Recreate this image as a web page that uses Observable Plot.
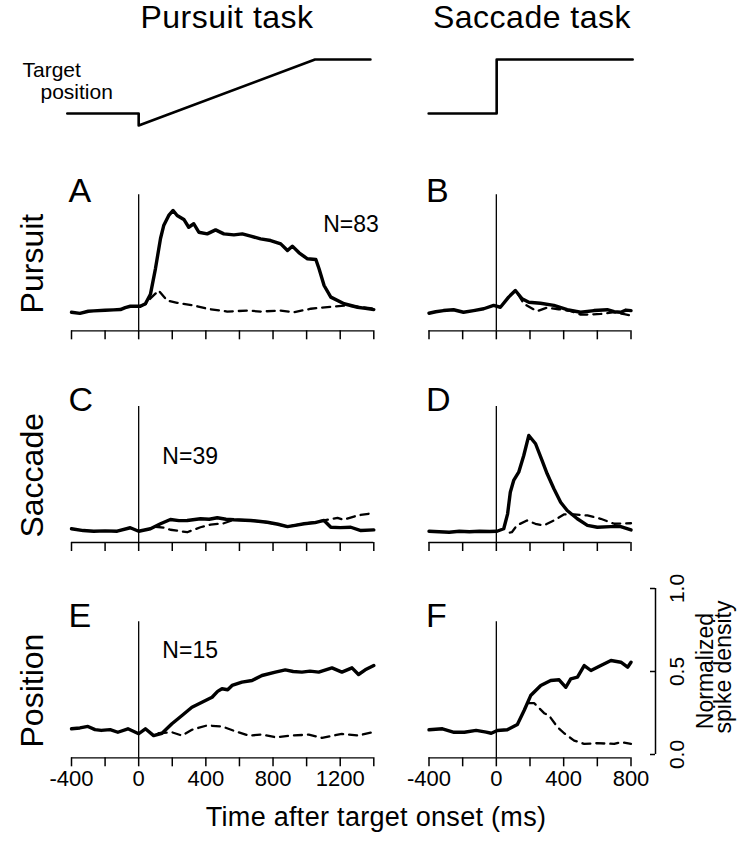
<!DOCTYPE html>
<html><head><meta charset="utf-8">
<script src="https://cdn.jsdelivr.net/npm/d3@7"></script>
<script src="https://cdn.jsdelivr.net/npm/@observablehq/plot@0.6"></script>
<style>
body{margin:0;background:#fff;}
#fig{position:relative;width:750px;height:843px;font-family:"Liberation Sans",Arial,sans-serif;color:#000;overflow:hidden;background:#fff}
#fig svg{position:absolute;overflow:visible;max-width:none;background:transparent}
.lbl{position:absolute;white-space:nowrap;transform:translateX(-50%);line-height:1}
</style></head><body><div id="fig"></div>
<script>
// ---- data (time in ms after target onset, normalized spike density) ----
const columnTitles = ["Pursuit task", "Saccade task"];
const rowTitles = ["Pursuit", "Saccade", "Position"];
const panelLetters = ["A", "B", "C", "D", "E", "F"];
const cellCounts = ["N=83", "N=39", "N=15"];
const timeTicks = [-400, -200, 0, 200, 400, 600, 800, 1000, 1200, 1400];
const densityTicks = [0, 0.5, 1];

// target position schematics (arbitrary units)
const pursuitTarget = [[-425, 0], [0, 0], [0, -1], [1050, 4.5], [1380, 4.5]];
const saccadeTarget = [[-402, 0], [2, 0], [2, 4.5], [810, 4.5]];

// A: pursuit cells (solid = pursuit task, dashed = saccade task)
const A_pursuitTask = [[-400,0.092],[-350,0.085],[-300,0.098],[-268,0.10],[-200,0.104],[-150,0.106],[-109,0.108],[-80,0.12],[-50,0.128],[10,0.128],[40,0.143],[70,0.20],[100,0.355],[130,0.536],[149,0.614],[179,0.675],[205,0.705],[229,0.675],[269,0.651],[298,0.604],[328,0.625],[358,0.574],[408,0.564],[458,0.588],[507,0.564],[567,0.558],[617,0.564],[667,0.55],[726,0.534],[786,0.524],[846,0.504],[886,0.464],[915,0.49],[955,0.45],[1005,0.414],[1055,0.41],[1074,0.354],[1104,0.253],[1144,0.183],[1223,0.143],[1303,0.122],[1350,0.115],[1400,0.108]];
const A_saccadeTask = [[0,0.128],[40,0.14],[70,0.175],[119,0.223],[169,0.163],[229,0.149],[328,0.133],[408,0.113],[527,0.096],[647,0.102],[726,0.096],[846,0.102],[925,0.092],[1025,0.113],[1124,0.123],[1243,0.133],[1400,0.113]];
// B: pursuit cells (solid = saccade task, dashed = pursuit task)
const B_saccadeTask = [[-400,0.086],[-360,0.095],[-314,0.102],[-254,0.107],[-195,0.092],[-135,0.102],[-75,0.113],[-16,0.133],[24,0.122],[73,0.183],[113,0.223],[153,0.173],[193,0.152],[262,0.146],[342,0.133],[421,0.107],[501,0.092],[580,0.102],[659,0.107],[700,0.095],[739,0.092],[770,0.105],[800,0.102]];
const B_pursuitTask = [[130,0.2],[163,0.143],[242,0.098],[302,0.12],[370,0.11],[440,0.1],[501,0.078],[550,0.078],[620,0.082],[700,0.092],[760,0.08],[800,0.072]];
// C: saccade cells (solid = pursuit task, dashed = saccade task)
const C_pursuitTask = [[-400,0.063],[-330,0.052],[-268,0.048],[-200,0.05],[-128,0.048],[-50,0.069],[0,0.048],[70,0.063],[130,0.093],[189,0.119],[240,0.112],[289,0.113],[368,0.123],[420,0.12],[468,0.129],[520,0.12],[567,0.117],[667,0.113],[766,0.102],[830,0.09],[886,0.076],[940,0.085],[985,0.093],[1050,0.1],[1104,0.113],[1144,0.072],[1200,0.07],[1263,0.072],[1323,0.052],[1400,0.056]];
const C_saccadeTask = [[100,0.075],[150,0.07],[189,0.057],[240,0.05],[289,0.042],[368,0.072],[428,0.088],[507,0.096],[567,0.117],[667,0.113],[766,0.102],[886,0.076],[985,0.093],[1104,0.113],[1184,0.129],[1220,0.117],[1303,0.143],[1393,0.157]];
// D: saccade cells (solid = saccade task, dashed = pursuit task)
const D_saccadeTask = [[-400,0.048],[-340,0.045],[-280,0.042],[-220,0.048],[-160,0.045],[-100,0.048],[-40,0.046],[4,0.048],[44,0.063],[67,0.153],[83,0.283],[103,0.354],[133,0.404],[163,0.504],[193,0.625],[233,0.575],[272,0.474],[302,0.394],[342,0.304],[382,0.223],[421,0.173],[481,0.123],[541,0.083],[600,0.072],[680,0.076],[739,0.076],[800,0.056]];
const D_pursuitTask = [[80,0.04],[92,0.042],[122,0.083],[182,0.113],[232,0.093],[282,0.083],[342,0.113],[401,0.149],[461,0.149],[541,0.143],[620,0.123],[700,0.093],[800,0.096]];
// E: position cells (solid = pursuit task, dashed = saccade task)
const E_pursuitTask = [[-400,0.155],[-350,0.16],[-302,0.169],[-260,0.15],[-223,0.145],[-170,0.15],[-124,0.134],[-64,0.155],[0,0.125],[40,0.155],[89,0.114],[139,0.128],[198,0.185],[258,0.235],[317,0.285],[377,0.315],[437,0.345],[470,0.38],[496,0.396],[530,0.39],[556,0.416],[615,0.436],[675,0.446],[734,0.476],[814,0.496],[873,0.51],[920,0.5],[972,0.496],[1020,0.502],[1072,0.496],[1151,0.522],[1210,0.496],[1270,0.522],[1309,0.482],[1349,0.51],[1400,0.536]];
const E_saccadeTask = [[119,0.128],[198,0.134],[258,0.114],[317,0.149],[407,0.175],[496,0.169],[575,0.14],[655,0.114],[734,0.12],[814,0.104],[913,0.114],[1013,0.12],[1092,0.1],[1210,0.124],[1309,0.114],[1389,0.134]];
// F: position cells (solid = saccade task, dashed = pursuit task)
const F_saccadeTask = [[-400,0.149],[-320,0.155],[-251,0.134],[-190,0.134],[-120,0.145],[-60,0.135],[-30,0.128],[6,0.145],[65,0.149],[125,0.181],[165,0.265],[204,0.355],[264,0.416],[323,0.446],[373,0.45],[413,0.405],[442,0.456],[482,0.466],[522,0.536],[562,0.506],[621,0.536],[681,0.566],[740,0.556],[780,0.526],[800,0.556]];
const F_pursuitTask = [[190,0.31],[224,0.31],[284,0.249],[313,0.235],[363,0.165],[403,0.128],[462,0.084],[522,0.064],[600,0.068],[700,0.064],[740,0.074],[800,0.064]];

// ---- layout ----
const fig = document.getElementById("fig");
const FONT = '"Liberation Sans", Arial, sans-serif';
const PX = 166; // pixels per unit of normalized density
const pts = a => a.map(([t, v]) => ({t, v}));
const COLS = [
  {left: 0, width: 390, marginLeft: 71, marginRight: 16.7, domain: [-400, 1400]},
  {left: 390, width: 360, marginLeft: 38.5, marginRight: 119.5, domain: [-400, 800]}
];
const ROWS = [
  {zeroY: 327, top: 160, bottom: 350},
  {zeroY: 538.7, top: 370, bottom: 560},
  {zeroY: 754, top: 560, bottom: 800}
];

function place(svg, left, top) {
  svg.style.left = left + "px";
  svg.style.top = top + "px";
  fig.appendChild(svg);
}

function htmlText(text, cx, baseline, size, spacing = 0) {
  const d = document.createElement("div");
  d.className = "lbl";
  d.textContent = text;
  d.style.fontSize = size + "px";
  d.style.letterSpacing = spacing + "px";
  d.style.left = cx + "px";
  d.style.top = (baseline - 0.8465 * size) + "px";
  fig.appendChild(d);
}

// column titles
htmlText(columnTitles[0], 227, 28, 32, 0.5);
htmlText(columnTitles[1], 532, 28, 32, 0.5);
// x title
htmlText("Time after target onset (ms)", 376, 826.7, 27, 0.3);

// target schematics
[pursuitTarget, saccadeTarget].forEach((tg, ci) => {
  const col = COLS[ci];
  const marks = [Plot.line(tg.map(([t, p]) => ({t, p})), {x: "t", y: "p", strokeWidth: 2.6})];
  if (ci === 0) {
    marks.push(Plot.text(["Target"], {x: -400, y: 3.08, dx: -49, text: d => d, textAnchor: "start", lineAnchor: "bottom", fontSize: 21}));
    marks.push(Plot.text(["position"], {x: -400, y: 1.17, dx: -31, text: d => d, textAnchor: "start", lineAnchor: "bottom", fontSize: 21}));
  }
  const svg = Plot.plot({
    width: col.width, height: 100,
    marginLeft: col.marginLeft, marginRight: col.marginRight, marginTop: 19, marginBottom: 15,
    x: {domain: col.domain, axis: null}, y: {domain: [-1, 4.5], axis: null},
    style: {fontFamily: FONT, background: "transparent", overflow: "visible"},
    marks
  });
  place(svg, col.left, 40);
});

const panels = [
  {solid: A_pursuitTask, dashed: A_saccadeTask, n: cellCounts[0], nx: 1099, ny: 0.578, letterY: 0.755},
  {solid: B_saccadeTask, dashed: B_pursuitTask, letterY: 0.755},
  {solid: C_pursuitTask, dashed: C_saccadeTask, n: cellCounts[1], nx: 141, ny: 0.456, letterY: 0.77},
  {solid: D_saccadeTask, dashed: D_pursuitTask, letterY: 0.77},
  {solid: E_pursuitTask, dashed: E_saccadeTask, n: cellCounts[2], nx: 141, ny: 0.584, letterY: 0.767},
  {solid: F_saccadeTask, dashed: F_pursuitTask, letterY: 0.767}
];

panels.forEach((p, i) => {
  const ri = Math.floor(i / 2), ci = i % 2;
  const row = ROWS[ri], col = COLS[ci];
  const bottomRow = ri === 2;
  const frameBottom = row.zeroY + 0.02 * PX;
  const [d0, d1] = col.domain;
  const marks = [
    Plot.ruleY([-0.02], {strokeWidth: 1.3}),
    Plot.axisX({ticks: timeTicks.filter(t => t <= d1), tickSize: 9, tickPadding: 4, strokeWidth: 1.5,
      tickFormat: bottomRow ? (d => d % 400 === 0 ? String(d) : "") : (() => ""), fontSize: 22, label: null}),
    Plot.ruleX([0], {y1: -0.02, y2: 0.8, strokeWidth: 1.3}),
    Plot.line(pts(p.dashed), {x: "t", y: "v", strokeWidth: 2.3, strokeDasharray: "8,6"}),
    Plot.line(pts(p.solid), {x: "t", y: "v", strokeWidth: 3.4, strokeLinejoin: "round", strokeLinecap: "round"}),
    Plot.text([panelLetters[i]], {x: d0, y: p.letterY, dx: -3, text: d => d, textAnchor: "start", lineAnchor: "bottom", fontSize: 34})
  ];
  if (ci === 0) {
    marks.push(Plot.text([rowTitles[ri]], {x: d0, y: 0.385, dx: -29, rotate: -90, text: d => d, textAnchor: "middle", lineAnchor: "bottom", fontSize: 32}));
    marks.push(Plot.text([p.n], {x: p.nx, y: p.ny, text: d => d, textAnchor: "start", lineAnchor: "bottom", fontSize: 23}));
  }
  if (i === 5) {
    marks.push(Plot.ruleX([d1], {y1: 0, y2: 1, dx: 24.5, strokeWidth: 1.5}));
    marks.push(Plot.axisY({anchor: "left", ticks: densityTicks, tickSize: 5, strokeWidth: 1.5, tickFormat: () => "", dx: 226.5, label: null}));
    marks.push(Plot.text(densityTicks, {frameAnchor: "right", y: d => d, text: d => d.toFixed(1), rotate: -90, dx: 52.5, textAnchor: "middle", lineAnchor: "bottom", fontSize: 21}));
    marks.push(Plot.text(["Normalized"], {frameAnchor: "right", y: 0.503, text: d => d, rotate: -90, dx: 81.5, textAnchor: "middle", lineAnchor: "bottom", fontSize: 23}));
    marks.push(Plot.text(["spike density"], {frameAnchor: "right", y: 0.527, text: d => d, rotate: -90, dx: 99.5, textAnchor: "middle", lineAnchor: "bottom", fontSize: 23}));
  }
  const svg = Plot.plot({
    width: col.width, height: row.bottom - row.top,
    marginLeft: col.marginLeft, marginRight: col.marginRight,
    marginTop: row.zeroY - PX - row.top, marginBottom: row.bottom - frameBottom,
    x: {domain: col.domain, label: null, axis: null},
    y: {domain: [-0.02, 1.0], axis: null, label: null},
    style: {fontFamily: FONT, background: "transparent", overflow: "visible"},
    marks
  });
  place(svg, col.left, row.top);
});
</script></body></html>
